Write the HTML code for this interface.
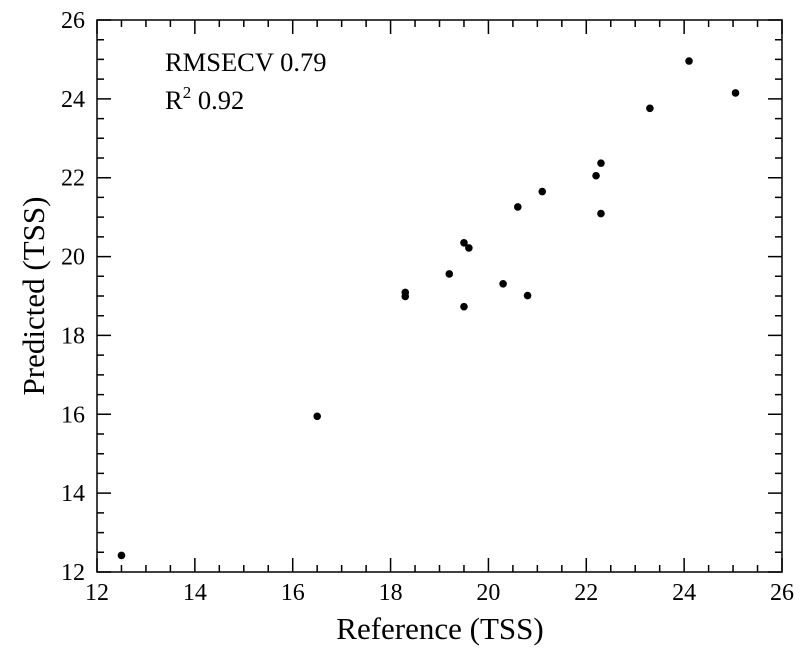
<!DOCTYPE html>
<html><head><meta charset="utf-8"><style>
html,body{margin:0;padding:0;background:#fff;}
svg text{font-family:"Liberation Serif",serif;fill:#000;}
</style></head><body>
<svg id="chart" width="802" height="654" xmlns="http://www.w3.org/2000/svg">
<g id="axes"></g><g id="pts"></g>
<text x="165" y="71" font-size="26.5">RMSECV 0.79</text>
<text x="165" y="109" font-size="26.5">R<tspan dy="-11" font-size="17">2</tspan><tspan dy="11"> 0.92</tspan></text>
<text x="440" y="639" font-size="31" text-anchor="middle">Reference (TSS)</text>
<text transform="translate(44,296) rotate(-90)" font-size="31" text-anchor="middle">Predicted (TSS)</text>
</svg>
<script>
const refValues=[12.5,16.5,18.3,18.3,19.2,19.5,19.5,19.6,20.3,20.8,20.6,21.1,22.2,22.3,22.3,23.3,24.1,25.05];
const predValues=[12.42,15.95,19.09,18.99,19.56,18.73,20.35,20.22,19.31,19.01,21.26,21.65,22.05,22.37,21.09,23.76,24.96,24.15];
const xTicks=[12,14,16,18,20,22,24,26];
const yTicks=[12,14,16,18,20,22,24,26];
const L=97,R=782,T=20,B=572,xmin=12,xmax=26,ymin=12,ymax=26;
const sx=v=>L+(v-xmin)/(xmax-xmin)*(R-L);
const sy=v=>B-(v-ymin)/(ymax-ymin)*(B-T);
const NS="http://www.w3.org/2000/svg";
const ax=document.getElementById('axes'),pg=document.getElementById('pts');
function mk(tag,at,parent){const e=document.createElementNS(NS,tag);for(const k in at)e.setAttribute(k,at[k]);parent.appendChild(e);return e;}
const fr=mk('rect',{x:L,y:T,width:R-L,height:B-T,fill:'none',stroke:'#000','stroke-width':1.5},ax);


let d='';
for(let v=xmin;v<=xmax+1e-9;v+=0.5){const x=sx(v);const len=(Math.abs(v-Math.round(v/2)*2)<1e-9)?14:7;d+=`M${x},${B}V${B-len}M${x},${T}V${T+len}`;}
for(let v=ymin;v<=ymax+1e-9;v+=0.5){const y=sy(v);const len=(Math.abs(v-Math.round(v/2)*2)<1e-9)?14:7;d+=`M${L},${y}H${L+len}M${R},${y}H${R-len}`;}
const tk=mk('path',{d:d,stroke:'#000','stroke-width':1.5,fill:'none'},ax);


xTicks.forEach(v=>{const t=mk('text',{x:sx(v),y:B+28,'font-size':24,'text-anchor':'middle'},ax);t.textContent=v;

});
yTicks.forEach(v=>{const t=mk('text',{x:L-12,y:sy(v)+8,'font-size':24,'text-anchor':'end'},ax);t.textContent=v;

});
refValues.forEach((r,i)=>{const c=mk('circle',{cx:sx(r),cy:sy(predValues[i]),r:3.8,fill:'#000'},pg);

});
</script>
</body></html>
